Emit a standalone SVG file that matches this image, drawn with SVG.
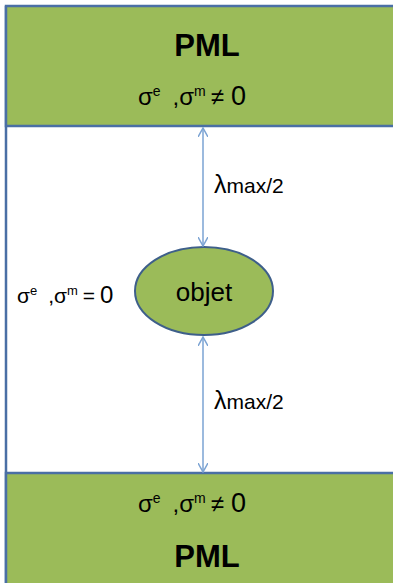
<svg xmlns="http://www.w3.org/2000/svg" width="393" height="583" viewBox="0 0 393 583">
<defs>
<style>
.pml{fill:#9BBB59;stroke:#4A6FA5;stroke-width:2.5}
.t{font-family:"Liberation Sans",Arial,sans-serif;fill:#000}
.b{font-family:"Liberation Sans",Arial,sans-serif;font-weight:bold;font-size:31px;fill:#000}
.s{font-size:24px}
.c{stroke:#7BA3D3;stroke-width:1.5;fill:none}
</style>
<marker id="ah" viewBox="0 0 10 10" refX="9" refY="5" markerWidth="10" markerHeight="10" markerUnits="userSpaceOnUse" orient="auto-start-reverse">
<path d="M0,0 L9,5 L0,10" fill="none" stroke="#7BA3D3" stroke-width="1.5"/>
</marker>
</defs>
<rect x="0" y="0" width="393" height="583" fill="#fff"/>
<line x1="6" y1="6" x2="6" y2="583" stroke="#4A6FA5" stroke-width="2.5"/>
<g id="pml-top">
<rect class="pml" x="6" y="6" width="400" height="120"/>
<text class="b" x="207" y="56" text-anchor="middle">PML</text>
<text class="t s" x="138" y="105">σ<tspan font-size="14" dy="-9">e</tspan><tspan dx="12" dy="9">,σ</tspan><tspan font-size="14" dy="-9">m</tspan><tspan dx="5" dy="9">≠</tspan><tspan dx="7" font-size="27">0</tspan></text>
</g>
<g id="pml-bottom">
<rect class="pml" x="6" y="473" width="400" height="120"/>
<text class="t s" x="138" y="512">σ<tspan font-size="14" dy="-9">e</tspan><tspan dx="12" dy="9">,σ</tspan><tspan font-size="14" dy="-9">m</tspan><tspan dx="5" dy="9">≠</tspan><tspan dx="7" font-size="27">0</tspan></text>
<text class="b" x="207" y="567" text-anchor="middle">PML</text>
</g>
<g id="vacuum">
<text class="t" x="17" y="303" font-size="21">σ<tspan font-size="13" dy="-8">e</tspan><tspan dx="11" dy="8">,σ</tspan><tspan font-size="13" dy="-8">m</tspan><tspan dx="5" dy="8">=</tspan><tspan dx="5" font-size="24">0</tspan></text>
</g>
<g id="objet">
<ellipse cx="204" cy="291" rx="69" ry="44" fill="#9BBB59" stroke="#3E5F8A" stroke-width="2"/>
<text class="t" x="204" y="301" font-size="26" text-anchor="middle">objet</text>
</g>
<g id="connectors">
<line class="c" x1="203" y1="128" x2="203" y2="246" marker-start="url(#ah)" marker-end="url(#ah)"/>
<line class="c" x1="203" y1="337" x2="203" y2="472" marker-start="url(#ah)" marker-end="url(#ah)"/>
<text class="t" x="214" y="193" font-size="25">λ<tspan font-size="21">max/2</tspan></text>
<text class="t" x="214" y="409" font-size="25">λ<tspan font-size="21">max/2</tspan></text>
</g>
</svg>
